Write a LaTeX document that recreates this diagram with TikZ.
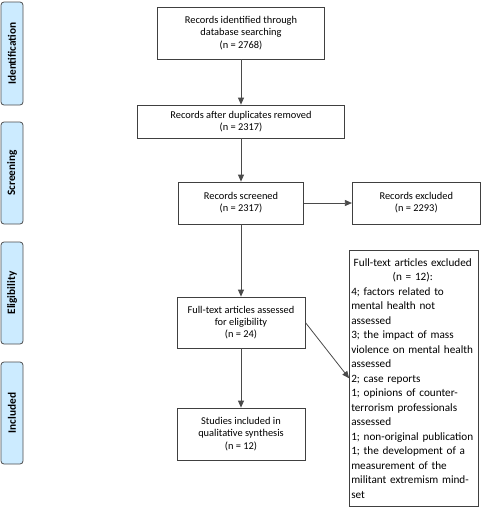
\documentclass[tikz,border=0pt]{standalone}
\usepackage{fontspec}
\setmainfont{Carlito}
\usetikzlibrary{arrows.meta}
\definecolor{boxc}{HTML}{404040}
\definecolor{arrc}{HTML}{4A4A4A}
\definecolor{bandc}{HTML}{4D4D4D}
\definecolor{bandfill}{HTML}{CCEBFF}
\begin{document}
\begin{tikzpicture}[x=1pt,y=-1pt,
  box/.style={draw=boxc, line width=0.8pt, fill=white, inner sep=0pt, align=center,
    font=\fontsize{10.4}{12.2}\selectfont},
  band/.style={draw=bandc, fill=bandfill, line width=0.8pt, rounded corners=3pt,
    rotate=90, minimum height=22pt, inner sep=0pt,
    font=\fontsize{11.3}{13}\selectfont\bfseries},
  arr/.style={draw=arrc, line width=0.8pt, -{Triangle[length=7pt,width=6pt]}},
]
\useasboundingbox (0,0) rectangle (483,509);

% phase bands
\node[band, minimum width=103pt] (bid) at (12,53.5) {Identification};
\node[band, minimum width=102pt] (bsc) at (12,173) {Screening};
\node[band, minimum width=102pt] (bel) at (12,293) {Eligibility};
\node[band, minimum width=102pt] (bin) at (12,413) {Included};

% boxes
\node[box, minimum width=167pt, minimum height=52pt] (id) at (241,33)
  {Records identified through\\database searching\\(n = 2768)};
\node[box, minimum width=207pt, minimum height=33pt] (dup) at (241,121.5)
  {Records after duplicates removed\\(n = 2317)};
\node[box, minimum width=125pt, minimum height=42pt] (scr) at (241,203)
  {Records screened\\(n = 2317)};
\node[box, minimum width=128pt, minimum height=42pt] (exc) at (416.3,203)
  {Records excluded\\(n = 2293)};
\node[box, minimum width=128pt, minimum height=51pt] (full) at (241,322.5)
  {Full-text articles assessed\\for eligibility\\(n = 24)};
\node[box, minimum width=128pt, minimum height=52pt] (stud) at (241,434)
  {Studies included in\\qualitative synthesis\\(n = 12)};
\node[box, align=left, text width=125pt, inner xsep=1.75pt,
      minimum height=256.5pt, font=\fontsize{11.2}{14.5}\selectfont] (ftex) at (413.75,378.25)
  {\hyphenpenalty=10000\exhyphenpenalty=10000
   \makebox[123pt]{Full-text articles excluded}\\
   \makebox[123pt]{(n = 12):}\\
   4; factors related to\\
   mental health not\\
   assessed\\
   3; the impact of mass\\
   violence on mental health\\
   assessed\\
   2; case reports\\
   1; opinions of counter-\\
   terrorism professionals\\
   assessed\\
   1; non-original publication\\
   1; the development of a\\
   measurement of the\\
   militant extremism mind-\\
   set};

% connectors
\draw[arr] (id) -- (dup);
\draw[arr] (dup) -- (scr);
\draw[arr] (scr) -- (exc);
\draw[arr] (scr) -- (full);
\draw[arr] (full) -- (stud);
\draw[arr] (full.east) -- (ftex.west);
\end{tikzpicture}
\end{document}
